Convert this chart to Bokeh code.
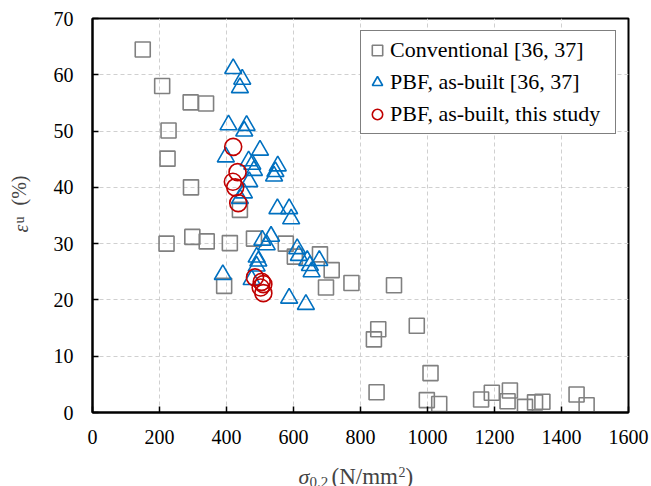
import math
from bokeh.plotting import figure
from bokeh.layouts import row, column
from bokeh.models import Range1d, FixedTicker, Label, Legend, LegendItem
from bokeh.embed import file_html
from bokeh.resources import INLINE

conv_x = [150, 208, 293, 339, 227, 224, 294, 440, 221, 298, 341, 410, 482, 577, 604, 679, 714, 697, 773, 393,
          900, 853, 840, 968, 1009, 848, 998, 1035, 1160, 1192, 1246, 1239, 1291, 1321, 1343, 1445, 1475]
conv_y = [64.5, 58.0, 55.1, 54.9, 50.1, 45.1, 40.0, 36.0, 30.0, 31.2, 30.4, 30.1, 30.9, 30.0, 27.7, 28.1, 25.3, 22.2, 23.0, 22.5,
          22.6, 14.8, 13.0, 15.4, 7.0, 3.6, 2.2, 1.5, 2.3, 3.5, 3.9, 2.0, 1.0, 1.8, 1.9, 3.2, 1.3]

pbf_x = [420, 447, 440, 406, 460, 453, 398, 500, 466, 477, 482, 553, 546, 542, 468, 452, 440,
         552, 587, 593, 507, 533, 520, 611, 616, 641, 649, 677, 654, 490, 495, 490, 389, 475, 587, 637]
pbf_y = [61.1, 59.2, 57.7, 51.1, 51.0, 50.0, 45.4, 46.6, 44.7, 44.1, 43.0, 43.8, 42.8, 42.0, 41.0, 39.0, 38.0,
         36.2, 36.2, 34.4, 30.6, 31.3, 29.8, 29.1, 27.9, 27.0, 26.1, 27.0, 25.0, 27.6, 26.9, 26.0, 24.5, 23.6, 20.3, 19.2]

study_x = [420, 433, 419, 426, 435, 485, 505, 510, 502, 510]
study_y = [47.2, 42.7, 41.0, 40.0, 37.2, 24.0, 23.2, 22.8, 22.2, 21.2]

x_ticks = [0, 200, 400, 600, 800, 1000, 1200, 1400, 1600]
y_ticks = [0, 10, 20, 30, 40, 50, 60, 70]
legend_labels = ["Conventional [36, 37]", "PBF, as-built [36, 37]", "PBF, as-built, this study"]

FONT = "'Liberation Serif', 'Times New Roman', serif"

YT_W = 40   # width of the strip holding the y-axis title
XT_H = 40   # height of the strip holding the x-axis title

p = figure(width=651 - YT_W, height=486 - XT_H, output_backend="svg", toolbar_location=None,
           x_range=Range1d(0, 1600), y_range=Range1d(0, 70),
           min_border_left=92 - YT_W, min_border_right=23, min_border_top=18, min_border_bottom=34)
p.background_fill_color = "white"
p.border_fill_color = "white"
p.outline_line_color = "black"
p.outline_line_width = 2

for ax in (p.xaxis[0], p.yaxis[0]):
    ax.axis_line_color = "black"
    ax.axis_line_width = 2
    ax.major_tick_in = 6
    ax.major_tick_out = 0
    ax.major_tick_line_width = 1.5
    ax.minor_tick_line_color = None
    ax.major_label_text_font = FONT
    ax.major_label_text_font_size = "20px"
    ax.major_label_text_color = "black"
p.xaxis[0].ticker = FixedTicker(ticks=x_ticks)
p.yaxis[0].ticker = FixedTicker(ticks=y_ticks)
p.xaxis[0].major_label_standoff = 17
p.yaxis[0].major_label_standoff = 19

for g in (p.xgrid[0], p.ygrid[0]):
    g.grid_line_color = "#d0d0d0"
    g.grid_line_dash = "4 3"
    g.grid_line_width = 1

r1 = p.scatter(conv_x, conv_y, marker="square", size=15, fill_color=None,
               line_color="#808080", line_width=1.6)
r2 = p.scatter(pbf_x, pbf_y, marker="triangle", size=17, fill_color=None,
               line_color="#0070C0", line_width=1.6)
r3 = p.scatter(study_x, study_y, marker="circle", size=17, fill_color=None,
               line_color="#C00000", line_width=1.6)

legend = Legend(items=[LegendItem(label=legend_labels[0], renderers=[r1]),
                       LegendItem(label=legend_labels[1], renderers=[r2]),
                       LegendItem(label=legend_labels[2], renderers=[r3])],
                location="top_right")
legend.label_text_font = FONT
legend.label_text_font_size = "22px"
legend.label_text_color = "black"
legend.border_line_color = "black"
legend.border_line_width = 1
legend.background_fill_alpha = 1
legend.glyph_width = 26
legend.glyph_height = 32
legend.label_height = 32
legend.label_width = 222
legend.label_standoff = 0
legend.spacing = 0
legend.padding = 3
legend.margin = 12
p.add_layout(legend)


def text_strip(w, h):
    f = figure(width=w, height=h, output_backend="svg", toolbar_location=None,
               x_range=Range1d(0, 1), y_range=Range1d(0, 1),
               x_axis_type=None, y_axis_type=None, min_border=0)
    f.outline_line_color = None
    f.background_fill_color = "white"
    f.border_fill_color = "white"
    f.grid.visible = False
    return f


# x axis title strip (its frame is aligned with the main plot's frame)
px = text_strip(651 - YT_W, XT_H)
px.add_layout(Label(x=206, y=10, x_units="screen", y_units="screen", text="σ", text_baseline="alphabetic",
                    text_font=FONT, text_font_style="italic", text_font_size="22px"))
px.add_layout(Label(x=217, y=5, x_units="screen", y_units="screen", text="0.2", text_baseline="alphabetic",
                    text_font=FONT, text_font_size="15px"))
px.add_layout(Label(x=239, y=10, x_units="screen", y_units="screen", text="(N/mm", text_baseline="alphabetic",
                    text_font=FONT, text_font_size="23px"))
px.add_layout(Label(x=306, y=15, x_units="screen", y_units="screen", text="2", text_baseline="alphabetic",
                    text_font=FONT, text_font_size="14px"))
px.add_layout(Label(x=313, y=10, x_units="screen", y_units="screen", text=")", text_baseline="alphabetic",
                    text_font=FONT, text_font_size="23px"))

# y axis title strip (rotated text)
py = text_strip(YT_W, 486)
py.add_layout(Label(x=20, y=254, x_units="screen", y_units="screen", text="ε", text_baseline="alphabetic",
                    text_font=FONT, text_font_style="italic", text_font_size="20px", angle=math.pi / 2))
py.add_layout(Label(x=19, y=263, x_units="screen", y_units="screen", text="u", text_baseline="alphabetic",
                    text_font=FONT, text_font_size="14px", angle=math.pi / 2))
py.add_layout(Label(x=18.5, y=281, x_units="screen", y_units="screen", text="(%)", text_baseline="alphabetic",
                    text_font=FONT, text_font_size="20px", angle=math.pi / 2))

layout = row(py, column(p, px, spacing=0), spacing=0)

open("out.html", "w").write(file_html(layout, INLINE))
